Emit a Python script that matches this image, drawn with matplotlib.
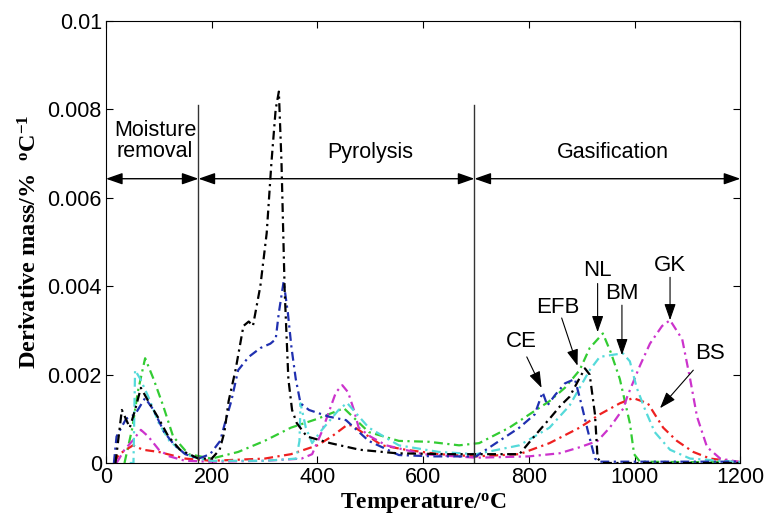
import matplotlib
matplotlib.use("Agg")
import matplotlib.pyplot as plt

plt.rcParams['font.family'] = ['Liberation Sans', 'DejaVu Sans']
plt.rcParams['mathtext.fontset'] = 'custom'
plt.rcParams['mathtext.rm'] = 'Liberation Serif:bold'
plt.rcParams['mathtext.it'] = 'Liberation Serif:bold'
plt.rcParams['mathtext.bf'] = 'Liberation Serif:bold'

# EFB (black)
efb_t = [18, 30, 45, 55, 66, 80, 100, 118, 140, 175, 200, 215, 224, 232, 245, 260, 270, 278,
         292, 304, 313, 321, 327, 332, 338, 345, 352, 361, 380, 424, 480, 550, 650, 700, 740,
         782, 810, 839, 860, 877, 895, 906, 915, 925, 930, 940, 1000, 1100, 1200]
efb_y = [0.0, 0.0012, 0.0008, 0.0012, 0.0017, 0.0014, 0.0010, 0.0006, 0.0003, 0.0001, 0.0001,
         0.0003, 0.0007, 0.0014, 0.0021, 0.0031, 0.0032, 0.0031, 0.0040, 0.0052, 0.0068, 0.0080,
         0.0084, 0.0068, 0.0039, 0.0019, 0.0012, 0.0009, 0.0006, 0.00045, 0.0003, 0.00022,
         0.0002, 0.0002, 0.0002, 0.0002, 0.0006, 0.0010, 0.0013, 0.0015, 0.0019, 0.00214,
         0.0020, 0.0011, 0.0001, 0.0, 0.0, 0.0, 0.0]

# CE (blue)
ce_t = [15, 20, 38, 55, 74, 90, 110, 130, 150, 175, 197, 216, 225, 237, 250, 270, 292, 311,
        321, 327, 336, 344, 351, 359, 368, 384, 421, 454, 497, 554, 620, 700, 744, 782, 811,
        826, 835, 849, 868, 887, 900, 911, 925, 935, 1000, 1100, 1200]
ce_y = [0.0, 0.0006, 0.0010, 0.0011, 0.00147, 0.0012, 0.0007, 0.0004, 0.0002, 0.0001, 0.0002,
        0.0005, 0.0009, 0.0014, 0.0021, 0.0024, 0.0026, 0.0027, 0.0028, 0.0034, 0.0041, 0.0034,
        0.0026, 0.0019, 0.00135, 0.0012, 0.00105, 0.00097, 0.0005, 0.00018, 0.00015, 0.00015,
        0.0005, 0.0008, 0.0011, 0.0016, 0.0013, 0.00153, 0.0018, 0.0019, 0.0013, 0.00075,
        0.0001, 0.00003, 0.00003, 0.00003, 0.00003]

# NL (green)
nl_t = [35, 50, 60, 74, 90, 108, 127, 156, 200, 250, 300, 350, 400, 421, 450, 497, 554, 611,
        668, 706, 763, 801, 839, 868, 896, 915, 940, 955, 972, 991, 999, 1010, 1100, 1200]
nl_y = [0.0, 0.0008, 0.0016, 0.00237, 0.0019, 0.0013, 0.0006, 0.0002, 0.0001, 0.00025, 0.0005,
        0.0008, 0.0010, 0.0011, 0.00124, 0.0007, 0.0005, 0.00048, 0.0004, 0.00045, 0.0008,
        0.0011, 0.0014, 0.0017, 0.0021, 0.0026, 0.00293, 0.0025, 0.0019, 0.0009, 0.0002,
        0.00003, 0.00002, 0.00002]

# BM (cyan)
bm_t = [45, 52, 55, 65, 80, 100, 120, 150, 175, 200, 300, 360, 366, 368, 378, 390, 405, 440,
        456, 475, 497, 554, 630, 700, 782, 839, 877, 896, 915, 934, 960, 978, 991, 1004, 1020,
        1038, 1067, 1105, 1200]
bm_y = [0.0, 0.0, 0.0021, 0.0019, 0.0015, 0.0009, 0.0005, 0.0002, 0.0001, 0.00005, 0.00005,
        0.0001, 0.0005, 0.00135, 0.0008, 0.00045, 0.0007, 0.0012, 0.00136, 0.0011, 0.0008,
        0.0004, 0.00025, 0.0002, 0.0004, 0.0008, 0.0013, 0.0017, 0.0021, 0.0024, 0.00245,
        0.00248, 0.0023, 0.0017, 0.0012, 0.0007, 0.0003, 0.0001, 0.00002]

# GK (magenta)
gk_t = [20, 35, 50, 66, 80, 100, 120, 150, 200, 300, 370, 390, 408, 420, 435, 447, 458, 469,
        478, 500, 530, 600, 700, 800, 858, 897, 930, 953, 979, 986, 1010, 1029, 1052, 1067,
        1090, 1105, 1118, 1137, 1162, 1200]
gk_y = [0.0, 0.0003, 0.0005, 0.00075, 0.0006, 0.0003, 0.00015, 0.00005, 0.00003, 0.00005,
        0.0001, 0.0002, 0.0007, 0.0011, 0.0016, 0.00176, 0.0016, 0.0012, 0.0008, 0.0006,
        0.0004, 0.0002, 0.00012, 0.00015, 0.00022, 0.00036, 0.0005, 0.0008, 0.00124, 0.0015,
        0.0022, 0.0027, 0.0031, 0.00323, 0.0028, 0.0019, 0.00105, 0.00036, 0.0001, 0.00002]

# BS (red)
bs_t = [15, 25, 51, 70, 100, 150, 200, 300, 350, 400, 427, 456, 465, 497, 522, 567, 630, 700,
        782, 839, 896, 934, 972, 997, 1025, 1054, 1080, 1111, 1143, 1200]
bs_y = [0.0, 0.0002, 0.0004, 0.0003, 0.00025, 0.0001, 0.00005, 0.0001, 0.0002, 0.0004, 0.0006,
        0.00086, 0.00085, 0.0006, 0.0004, 0.0003, 0.0002, 0.00015, 0.0002, 0.00045, 0.0008,
        0.0011, 0.00135, 0.00147, 0.00135, 0.0008, 0.0005, 0.00025, 0.0001, 0.00002]

labels = ["CE", "EFB", "NL", "BM", "GK", "BS"]
label_xy = [(786, 0.00275), (854, 0.00352), (930, 0.00436), (976, 0.00384), (1067, 0.00447), (1143, 0.00248)]
start_xy = [(796, 0.00240), (862, 0.00328), (930, 0.00406), (976, 0.00357), (1067, 0.00420), (1111, 0.00210)]
tip_xy = [(824, 0.0017), (892, 0.0022), (930, 0.00296), (976, 0.00244), (1067, 0.00323), (1048, 0.00124)]

fig = plt.figure(figsize=(7.68, 5.22), dpi=100)
ax = fig.add_axes([0.138, 0.113, 0.826, 0.847])

ls = (0, (4, 2, 1, 2))
lw = 1.6
ax.plot(nl_t, nl_y, color='#33cc33', lw=lw, ls=ls)
ax.plot(bs_t, bs_y, color='#ee2020', lw=lw, ls=ls)
ax.plot(gk_t, gk_y, color='#cc33cc', lw=lw, ls=ls)
ax.plot(bm_t, bm_y, color='#55dada', lw=lw, ls=ls)
ax.plot(ce_t, ce_y, color='#2030b0', lw=lw, ls=ls)
ax.plot(efb_t, efb_y, color='black', lw=lw, ls=ls)

ax.set_xlim(0, 1200)
ax.set_ylim(0, 0.01)
ax.set_xticks([0, 200, 400, 600, 800, 1000, 1200])
ax.set_yticks([0, 0.002, 0.004, 0.006, 0.008, 0.01])
ax.set_yticklabels(["0", "0.002", "0.004", "0.006", "0.008", "0.01"])
ax.tick_params(direction='in', top=True, right=True, labelsize=15.5, length=5, pad=3)

ax.set_xlabel(r'Temperature/$^{\mathrm{o}}$C', fontsize=17, fontfamily='Liberation Serif',
              fontweight='bold', labelpad=2)
ax.set_ylabel(r'Derivative mass/%  $^{\mathrm{o}}$C$^{\mathrm{-1}}$', fontsize=17.5,
              fontfamily='Liberation Serif', fontweight='bold', labelpad=4)

# phase boundaries
for xb in [175, 697]:
    ax.plot([xb, xb], [0, 0.0081], color='#333333', lw=1.0)

arrow_y = 0.00643
for x0, x1 in [(0, 175), (175, 697), (697, 1200)]:
    ax.annotate('', xy=(x0, arrow_y), xytext=(x1, arrow_y),
                arrowprops=dict(arrowstyle='<|-|>,head_width=0.35,head_length=1.0',
                                color='black', lw=1.0, shrinkA=0, shrinkB=0))

ax.text(93, 0.00728, "Moisture\nremoval", ha='center', va='center', fontsize=15.5,
        linespacing=1.0)
ax.text(500, 0.00703, "Pyrolysis", ha='center', va='center', fontsize=15.5)
ax.text(958, 0.00703, "Gasification", ha='center', va='center', fontsize=15.5)

for lab, (lx, ly), (sx, sy), (tx, ty) in zip(labels, label_xy, start_xy, tip_xy):
    ax.text(lx, ly, lab, ha='center', va='center', fontsize=16)
    ax.annotate('', xy=(tx, ty), xytext=(sx, sy),
                arrowprops=dict(arrowstyle='-|>,head_width=0.35,head_length=1.0',
                                color='black', lw=0.8, shrinkA=0, shrinkB=0))

fig.savefig("out.png", dpi=100)
